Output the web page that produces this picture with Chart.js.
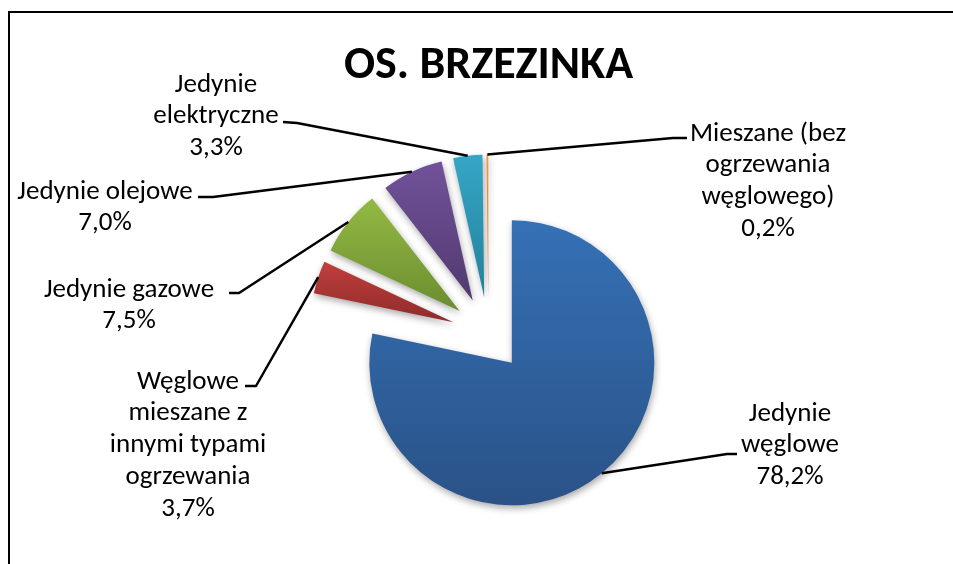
<!DOCTYPE html>
<html>
<head>
<meta charset="utf-8">
<script src="https://cdn.jsdelivr.net/npm/chart.js@4/dist/chart.umd.min.js"></script>
<style>
  html, body { margin: 0; padding: 0; background: #fff; }
  #wrap { position: relative; width: 953px; height: 564px; }
  #frame { position: absolute; left: 8px; top: 11px; width: 945px; height: 553px;
           border-top: 2px solid #000; border-left: 2px solid #000; box-sizing: border-box; pointer-events: none; }
  canvas { position: absolute; left: 0; top: 0; }
</style>
</head>
<body>
<div id="wrap">
  <canvas id="c" width="953" height="564"></canvas>
  <div id="frame"></div>
</div>
<script>
// ---- data ----
const chartTitle = 'OS. BRZEZINKA';
const categories = [
  'Jedynie węglowe',
  'Węglowe mieszane z innymi typami ogrzewania',
  'Jedynie gazowe',
  'Jedynie olejowe',
  'Jedynie elektryczne',
  'Mieszane (bez ogrzewania węglowego)'
];
const shares = [78.2, 3.7, 7.5, 7.0, 3.3, 0.2];
const labelLines = [
  ['Jedynie', 'węglowe'],
  ['Węglowe', 'mieszane z', 'innymi typami', 'ogrzewania'],
  ['Jedynie gazowe'],
  ['Jedynie olejowe'],
  ['Jedynie', 'elektryczne'],
  ['Mieszane (bez', 'ogrzewania', 'węglowego)']
];

// ---- styles ----
const topColors    = ['#3571b6', '#c03f3d', '#93b944', '#71529b', '#35a6c6', '#f79646'];
const bottomColors = ['#2a5287', '#8e2b2a', '#6b8d2f', '#52396f', '#23819b', '#e46c0a'];
const FONT = 'Carlito, Calibri, Lato, "Open Sans", sans-serif';
const EXPLODE = 37;      // px each slice is pulled out from the pie centre
const RADIUS = 142.5;
const LINE_H = 31.7;
// label layout: first line centre, and the two leader-line points next to the text
const labelLayout = [
  { x: 790, y: 414, lead: [[737, 454], [727, 454]] },
  { x: 188, y: 382, lead: [[245, 386], [256, 386]] },
  { x: 129, y: 290, lead: [[229, 293], [239, 293]] },
  { x: 105, y: 192, lead: [[198, 197], [213, 197]] },
  { x: 216, y: 85,  lead: [[283, 122], [297, 123]] },
  { x: 768, y: 134, lead: [[687, 138], [673, 138]] }
];

function fmtPct(v) { return v.toFixed(1).replace('.', ',') + '%'; }

function sliceAngles(i) {
  const total = shares.reduce((a, b) => a + b, 0);
  let acc = 0;
  for (let k = 0; k < i; k++) acc += shares[k];
  const s = -Math.PI / 2 + acc / total * 2 * Math.PI;
  const e = s + shares[i] / total * 2 * Math.PI;
  return [s, e];
}

function sliceGradient(ctx) {
  const chart = ctx.chart;
  const i = ctx.dataIndex;
  const ca = chart.chartArea;
  if (!ca || i === undefined) return topColors[i || 0];
  const cy = (ca.top + ca.bottom) / 2;
  const [s, e] = sliceAngles(i);
  const mid = (s + e) / 2;
  const ay = cy + Math.sin(mid) * EXPLODE;
  let ymin = ay, ymax = ay;
  for (let k = 0; k <= 40; k++) {
    const a = s + (e - s) * k / 40;
    const y = ay + Math.sin(a) * RADIUS;
    ymin = Math.min(ymin, y); ymax = Math.max(ymax, y);
  }
  if (ymax - ymin < 1) ymax = ymin + 1;
  const g = chart.ctx.createLinearGradient(0, ymin, 0, ymax);
  g.addColorStop(0, topColors[i]);
  g.addColorStop(1, bottomColors[i]);
  return g;
}

const explodedPie = {
  id: 'explodedPie',
  afterDatasetUpdate(chart, args) {
    // pull every slice out along its own mid angle
    args.meta.data.forEach(el => {
      const mid = (el.startAngle + el.endAngle) / 2;
      el.x += Math.cos(mid) * EXPLODE;
      el.y += Math.sin(mid) * EXPLODE;
    });
  },
  beforeDatasetsDraw(chart) {
    const c = chart.ctx;
    c.save();
    c.shadowColor = 'rgba(0,0,0,0.35)';
    c.shadowBlur = 7;
    c.shadowOffsetX = 1;
    c.shadowOffsetY = 3;
  },
  afterDatasetsDraw(chart) {
    const c = chart.ctx;
    c.restore();
    const meta = chart.getDatasetMeta(0);
    c.save();
    c.strokeStyle = '#000';
    c.lineWidth = 2.5;
    c.lineJoin = 'round';
    meta.data.forEach((el, i) => {
      const mid = (el.startAngle + el.endAngle) / 2;
      const px = el.x + Math.cos(mid) * el.outerRadius;
      const py = el.y + Math.sin(mid) * el.outerRadius;
      const L = labelLayout[i];
      c.beginPath();
      c.moveTo(L.lead[0][0], L.lead[0][1]);
      c.lineTo(L.lead[1][0], L.lead[1][1]);
      c.lineTo(px, py);
      c.stroke();
      const lines = labelLines[i].concat([fmtPct(shares[i])]);
      c.fillStyle = '#000';
      c.font = '27px ' + FONT;
      c.textAlign = 'center';
      c.textBaseline = 'middle';
      lines.forEach((ln, k) => c.fillText(ln, L.x, L.y + k * LINE_H));
    });
    c.restore();
  }
};

new Chart(document.getElementById('c'), {
  type: 'pie',
  data: {
    labels: categories,
    datasets: [{
      data: shares,
      backgroundColor: sliceGradient,
      borderWidth: 0,
      offset: 0,
      hoverOffset: 0,
      radius: RADIUS,
      clip: false
    }]
  },
  options: {
    responsive: false,
    animation: false,
    events: [],
    layout: { padding: { left: 24, right: 0, top: 0, bottom: 0 } },
    plugins: {
      legend: { display: false },
      tooltip: { enabled: false },
      title: {
        display: true,
        text: chartTitle,
        color: '#000',
        font: { family: FONT, size: 46, weight: 'bold', lineHeight: 1.1 },
        padding: { top: 41.5, bottom: 12 }
      }
    }
  },
  plugins: [explodedPie]
});
</script>
</body>
</html>
